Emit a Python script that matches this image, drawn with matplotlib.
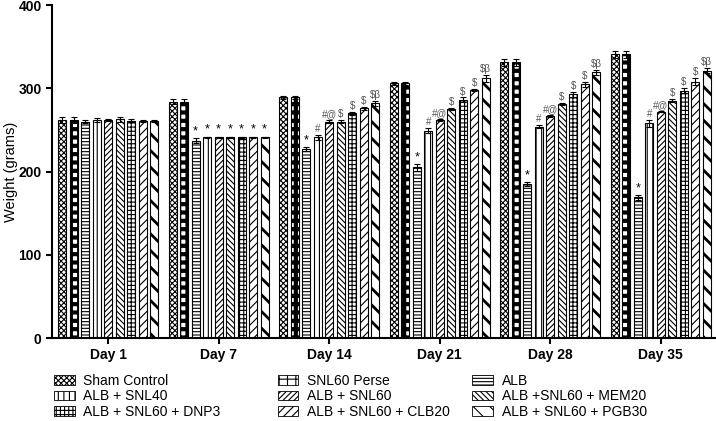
import numpy as np
import matplotlib.pyplot as plt
import matplotlib.patches as mpatches

plt.rcParams['font.family'] = ['Liberation Sans', 'DejaVu Sans']

days = ["Day 1", "Day 7", "Day 14", "Day 21", "Day 28", "Day 35"]
groups = ["Sham Control", "SNL60 Perse", "ALB", "ALB + SNL40", "ALB + SNL60",
          "ALB +SNL60 + MEM20", "ALB + SNL60 + DNP3", "ALB + SNL60 + CLB20",
          "ALB + SNL60 + PGB30"]

# mean weight (g) per group, one list per group across days
sham = [262, 284, 289, 306, 331, 341]
snl60 = [262, 284, 289, 306, 331, 341]
alb = [260, 237, 227, 205, 185, 169]
alb_snl40 = [262, 241, 241, 249, 254, 258]
alb_snl60 = [262, 241, 260, 262, 267, 272]
mem20 = [263, 241, 260, 275, 281, 285]
dnp3 = [261, 241, 270, 286, 293, 297]
clb20 = [261, 241, 276, 298, 305, 308]
pgb30 = [261, 241, 282, 312, 319, 321]

sham_err = [4, 3, 2, 2, 4, 4]
snl60_err = [4, 3, 2, 2, 4, 4]
alb_err = [2, 3, 2, 4, 2, 3]
alb_snl40_err = [2, 1, 3, 3, 2, 4]
alb_snl60_err = [1, 1, 2, 1, 1, 1]
mem20_err = [3, 1, 2, 1, 1, 2]
dnp3_err = [2, 1, 2, 3, 3, 3]
clb20_err = [1, 1, 2, 1, 3, 4]
pgb30_err = [1, 1, 3, 4, 3, 3]

# significance marks per group (same for Day 14 .. Day 35)
marks = ["", "", "*", "#", "#@", "$", "$", "$", "$\u03b2"]

values = [sham, snl60, alb, alb_snl40, alb_snl60, mem20, dnp3, clb20, pgb30]
errors = [sham_err, snl60_err, alb_err, alb_snl40_err, alb_snl60_err,
          mem20_err, dnp3_err, clb20_err, pgb30_err]

styles = [
    dict(hatch="xxxxxx", hc="#555555", hlw=0.8),
    dict(hatch="++", hc="black", hlw=3.0),
    dict(hatch="-----", hc="#444444", hlw=0.8),
    dict(hatch="|||", hc="#444444", hlw=0.8),
    dict(hatch="//////", hc="#444444", hlw=0.8),
    dict(hatch="\\\\\\\\\\\\", hc="#444444", hlw=0.8),
    dict(hatch="++++", hc="#444444", hlw=0.8),
    dict(hatch="////", hc="#444444", hlw=0.8),
    dict(hatch="\\\\", hc="black", hlw=2.0),
]

fig = plt.figure(figsize=(7.16, 4.21), dpi=100)
ax = fig.add_axes([0.0726, 0.197, 0.926, 0.791])

x = np.arange(len(days))
pitch = 0.104
width = 0.0724


def style_patch(p, st):
    if hasattr(p, "set_hatch_linewidth"):
        p.set_hatch_linewidth(st['hlw'])
    if hasattr(p, "set_hatchcolor"):
        p.set_hatchcolor(st['hc'])


for i in range(len(groups)):
    st = styles[i]
    xs = x + (i - 4) * pitch
    with plt.rc_context({'hatch.linewidth': st['hlw'], 'hatch.color': st['hc']}):
        bars = ax.bar(xs, values[i], width, facecolor="white", edgecolor="black",
                      linewidth=0.8, hatch=st['hatch'])
        for b in bars:
            style_patch(b, st)
    ax.errorbar(xs, values[i], yerr=errors[i], fmt="none", ecolor="black",
                elinewidth=0.8, capsize=2.5, capthick=0.8)
    for d in range(1, len(days)):
        if d == 1:
            m = "*" if i >= 2 else ""
        else:
            m = marks[i]
        if m:
            col = "black" if m == "*" else "#555555"
            ax.text(xs[d], values[i][d] + errors[i][d] + 1, m, ha="center",
                    va="bottom", fontsize=7 if m != "*" else 9, color=col)

ax.set_xlim(-0.507, 5.49)
ax.set_ylim(0, 400)
ax.set_yticks([0, 100, 200, 300, 400])
ax.set_xticks(x)
ax.set_xticklabels(days, fontweight="bold", fontsize=10)
for t in ax.get_yticklabels():
    t.set_fontweight("bold")
    t.set_fontsize(10)
ax.set_ylabel("Weight (grams)", fontsize=10.5)
ax.yaxis.set_label_coords(-0.051, 0.5)
ax.spines["top"].set_visible(False)
ax.spines["right"].set_visible(False)
ax.spines["left"].set_linewidth(1.5)
ax.spines["bottom"].set_linewidth(1.5)
ax.tick_params(axis="both", width=1.5, length=4)

# legend in three columns
col_x = [0.068, 0.380, 0.652]
for c in range(3):
    handles = []
    for r in range(3):
        i = r * 3 + c
        st = styles[i]
        with plt.rc_context({'hatch.linewidth': st['hlw'], 'hatch.color': st['hc']}):
            p = mpatches.Patch(facecolor="white", edgecolor="black", linewidth=0.6,
                               hatch=st['hatch'], label=groups[i])
            style_patch(p, st)
        handles.append(p)
    with plt.rc_context({'hatch.linewidth': 0.8}):
        fig.legend(handles=handles, loc="upper left", bbox_to_anchor=(col_x[c], 0.125),
                   frameon=False, fontsize=10, handlelength=1.5, handleheight=0.7,
                   handletextpad=0.6, labelspacing=0.1, borderaxespad=0)

fig.savefig("out.png", dpi=100)
